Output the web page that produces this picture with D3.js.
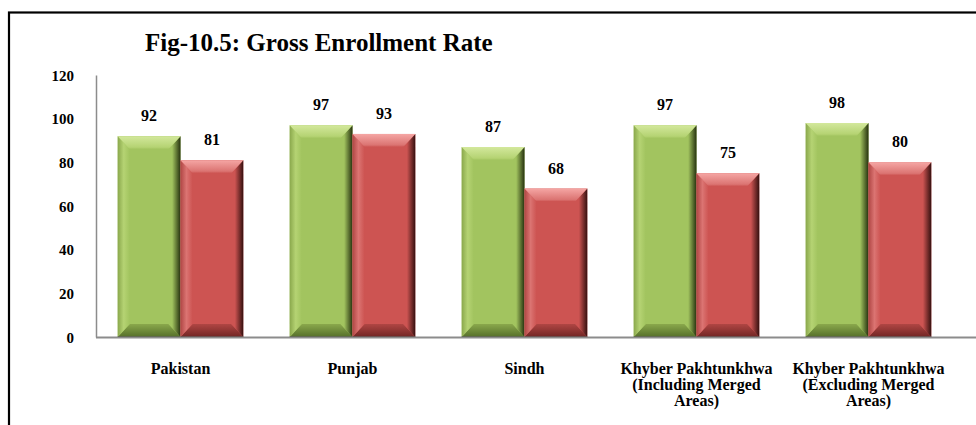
<!DOCTYPE html>
<html>
<head>
<meta charset="utf-8">
<script src="https://cdn.jsdelivr.net/npm/d3@7"></script>
<style>
  html, body { margin: 0; padding: 0; background: #fff; }
  svg { display: block; }
</style>
</head>
<body>
<svg id="chart" width="976" height="425"></svg>
<script>
const categories = [
  ["Pakistan"],
  ["Punjab"],
  ["Sindh"],
  ["Khyber Pakhtunkhwa", "(Including Merged", "Areas)"],
  ["Khyber Pakhtunkhwa", "(Excluding Merged", "Areas)"]
];
const seriesNames = ["Series A", "Series B"];
const seriesA = [92, 97, 87, 97, 98];
const seriesB = [81, 93, 68, 75, 80];
const yTicks = [0, 20, 40, 60, 80, 100, 120];
const title = "Fig-10.5: Gross Enrollment Rate";

const FONT = "'Liberation Serif', 'Times New Roman', serif";
const svg = d3.select("#chart");
const W = 976, H = 425;

function txt(sel, size) {
  return sel.style("font-family", FONT).style("font-weight", "bold").style("font-size", size + "px").attr("fill", "#000");
}

// border
svg.append("rect").attr("x", 9).attr("y", 12.5).attr("width", W + 20).attr("height", H + 20)
  .attr("fill", "none").attr("stroke", "#000").attr("stroke-width", 2.2);

txt(svg.append("text").attr("x", 145).attr("y", 51), 25).text(title);

const y = d3.scaleLinear().domain([0, 120]).range([337, 75]);
const catKeys = categories.map((c, i) => i);
const x0 = d3.scaleBand().domain(catKeys).range([94.5, 954.5]).paddingInner(0.27).paddingOuter(0.135);
const x1 = d3.scaleBand().domain(seriesNames).range([0, x0.bandwidth()]);

// y axis
const yAxis = d3.axisLeft(y).tickValues(yTicks).tickSize(0).tickPadding(22);
const gy = svg.append("g").attr("transform", "translate(96,0)").call(yAxis);
gy.select(".domain").attr("stroke", "#8c8c8c").attr("stroke-width", 1.5);
txt(gy.selectAll("text"), 15).attr("dy", "0.35em");

const defs = svg.append("defs");
const palettes = {
  "Series A": { main: "#a2c45f", light: "#d3e89c", dark: "#26320f", bottom: "#56702a", bmid: "#8aa84c", left: "#b5d373" },
  "Series B": { main: "#cd5452", light: "#f5a6a4", dark: "#35100f", bottom: "#722624", bmid: "#b04644", left: "#db7472" }
};
Object.entries(palettes).forEach(([k, p], i) => {
  const id = "g" + i;
  const gt = defs.append("linearGradient").attr("id", id + "top").attr("x1", 0).attr("y1", 0).attr("x2", 0).attr("y2", 1);
  gt.append("stop").attr("offset", 0).attr("stop-color", p.light);
  gt.append("stop").attr("offset", 0.85).attr("stop-color", p.left);
  gt.append("stop").attr("offset", 1).attr("stop-color", p.main);
  const gr = defs.append("linearGradient").attr("id", id + "right").attr("x1", 0).attr("y1", 0).attr("x2", 1).attr("y2", 0);
  gr.append("stop").attr("offset", 0).attr("stop-color", p.main);
  gr.append("stop").attr("offset", 0.3).attr("stop-color", p.main);
  gr.append("stop").attr("offset", 1).attr("stop-color", p.dark);
  const gb = defs.append("linearGradient").attr("id", id + "bottom").attr("x1", 0).attr("y1", 0).attr("x2", 0).attr("y2", 1);
  gb.append("stop").attr("offset", 0).attr("stop-color", p.bmid);
  gb.append("stop").attr("offset", 1).attr("stop-color", p.bottom);
  const gl = defs.append("linearGradient").attr("id", id + "left").attr("x1", 0).attr("y1", 0).attr("x2", 1).attr("y2", 0);
  gl.append("stop").attr("offset", 0).attr("stop-color", p.bmid);
  gl.append("stop").attr("offset", 0.5).attr("stop-color", p.left);
  gl.append("stop").attr("offset", 1).attr("stop-color", p.main);
});

const data = [];
categories.forEach((c, i) => {
  data.push({ cat: i, s: "Series A", v: seriesA[i], gi: 0 });
  data.push({ cat: i, s: "Series B", v: seriesB[i], gi: 1 });
});

const bars = svg.append("g").selectAll("g").data(data).join("g");
bars.each(function (d) {
  const g = d3.select(this);
  const bx = x0(d.cat) + x1(d.s), bw = x1.bandwidth();
  const top = y(d.v), bot = y(0);
  const p = palettes[d.s];
  const b = 13, bs = 12;
  const id = "g" + d.gi;
  g.append("rect").attr("x", bx).attr("y", top).attr("width", bw).attr("height", bot - top).attr("fill", p.main);
  const poly = pts => pts.map(q => q.join(",")).join(" ");
  g.append("polygon").attr("points", poly([[bx, bot], [bx + bw, bot], [bx + bw - bs, bot - b], [bx + bs, bot - b]])).attr("fill", `url(#${id}bottom)`);
  g.append("polygon").attr("points", poly([[bx, top], [bx + bs, top + b], [bx + bs, bot - b], [bx, bot]])).attr("fill", `url(#${id}left)`);
  g.append("polygon").attr("points", poly([[bx + bw, top], [bx + bw - bs, top + b], [bx + bw - bs, bot - b], [bx + bw, bot]])).attr("fill", `url(#${id}right)`);
  g.append("polygon").attr("points", poly([[bx, top], [bx + bw, top], [bx + bw - bs, top + b], [bx + bs, top + b]])).attr("fill", `url(#${id}top)`);
  g.append("line").attr("x1", bx).attr("x2", bx + bw).attr("y1", bot - 0.5).attr("y2", bot - 0.5).attr("stroke", p.dark).attr("stroke-opacity", 0.6);
  txt(g.append("text").attr("x", bx + bw / 2).attr("y", top - 15).attr("text-anchor", "middle"), 16).text(d.v);
});

// x axis line
svg.append("line").attr("x1", 96).attr("x2", W).attr("y1", 337.5).attr("y2", 337.5).attr("stroke", "#8c8c8c").attr("stroke-width", 2);

// category labels
const cl = txt(svg.append("g").selectAll("text").data(categories).join("text")
  .attr("x", (d, i) => x0(i) + x0.bandwidth() / 2)
  .attr("y", 374).attr("text-anchor", "middle"), 16);
cl.each(function (d) {
  const t = d3.select(this);
  d.forEach((line, j) => {
    t.append("tspan").attr("x", t.attr("x")).attr("dy", j === 0 ? 0 : 16).text(line);
  });
});
</script>
</body>
</html>
